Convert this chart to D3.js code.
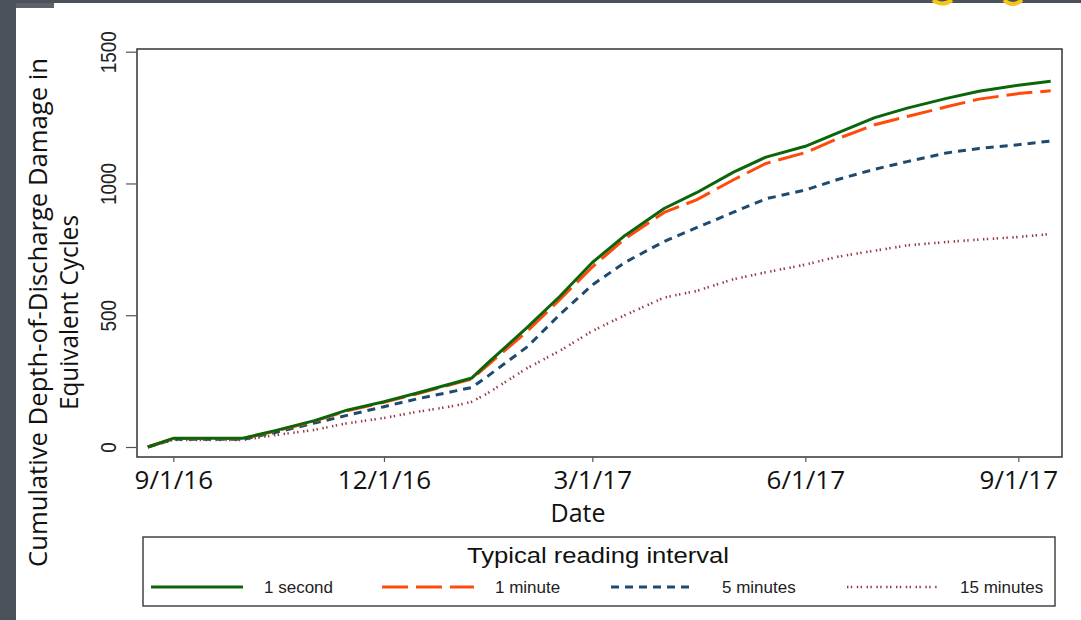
<!DOCTYPE html>
<html>
<head>
<meta charset="utf-8">
<script src="https://cdn.jsdelivr.net/npm/d3@7"></script>
<style>
  body { margin: 0; background: #fff; }
  svg { display: block; }
</style>
</head>
<body>
<div id="chart"></div>
<script>
// readings (cumulative DoD damage, equivalent cycles)
const dates = ["2016-08-21", "2016-09-01", "2016-10-01", "2016-10-15", "2016-11-01", "2016-11-15",
    "2016-12-01", "2016-12-15", "2017-01-01", "2017-01-08", "2017-01-15", "2017-02-01", "2017-02-15",
    "2017-03-01", "2017-03-15", "2017-04-01", "2017-04-15", "2017-05-01", "2017-05-15", "2017-06-01",
    "2017-06-15", "2017-07-01", "2017-07-15", "2017-08-01", "2017-08-15", "2017-09-01", "2017-09-15"];
const oneSecond = [0, 33, 33, 62, 100, 140, 172, 204, 245, 262, 320, 455, 572, 700, 802, 905, 965,
    1043, 1100, 1141, 1192, 1250, 1286, 1323, 1350, 1373, 1388];
const oneMinute = [0, 32, 32, 60, 98, 137, 170, 201, 242, 258, 312, 440, 560, 683, 790, 890, 938,
    1014, 1076, 1117, 1170, 1223, 1254, 1291, 1320, 1341, 1352];
const fiveMinutes = [0, 29, 29, 55, 91, 120, 153, 182, 213, 226, 270, 381, 503, 615, 700, 780, 832,
    891, 942, 975, 1015, 1054, 1083, 1116, 1133, 1147, 1161];
const fifteenMinutes = [0, 27, 27, 45, 65, 90, 110, 133, 157, 172, 205, 300, 365, 440, 500, 567, 592,
    637, 663, 692, 722, 745, 765, 778, 787, 797, 808];

const seriesNames = ["1 second", "1 minute", "5 minutes", "15 minutes"];
const xTickDates = ["2016-09-01", "2016-12-01", "2017-03-01", "2017-06-01", "2017-09-01"];
const yTicks = [0, 500, 1000, 1500];

let width = 1081, height = 620;
let frame = {left: 137, right: 1062, top: 49, bottom: 457}; //px

let parse = d3.timeParse("%Y-%m-%d");

let svg = d3.select("#chart")
    .append("svg")
    .attr("width", width)
    .attr("height", height);

// slide chrome around the chart
svg.append("rect").attr("x", 0).attr("y", 0).attr("width", 16).attr("height", height).attr("fill", "#4a5159");
svg.append("rect").attr("x", 0).attr("y", 0).attr("width", width).attr("height", 3).attr("fill", "#4a5159");
svg.append("rect").attr("x", 16).attr("y", 3).attr("width", 38).attr("height", 5).attr("fill", "#5b626a");
svg.append("path").attr("d", "M933,0 Q942,7 952,0").attr("fill", "none").attr("stroke", "#f5c518").attr("stroke-width", 4);
svg.append("path").attr("d", "M1004,0 Q1013,8 1022,0").attr("fill", "none").attr("stroke", "#f5c518").attr("stroke-width", 4);

let x = d3.scaleTime()
    .domain([parse(xTickDates[0]), parse(xTickDates[xTickDates.length - 1])])
    .range([173.3, 1018.3]);

let y = d3.scaleLinear()
    .domain([0, 1500])
    .range([447, 51.7]);

// plot frame
svg.append("rect")
    .attr("x", frame.left)
    .attr("y", frame.top)
    .attr("width", frame.right - frame.left)
    .attr("height", frame.bottom - frame.top)
    .attr("fill", "none")
    .attr("stroke", "#333")
    .attr("stroke-width", 1.5);

/*---------------
 // y axis stuff
 ----------------*/
let yAxis = d3.axisLeft(y)
    .tickValues(yTicks)
    .tickSize(11)
    .tickPadding(0)
    .tickFormat(d3.format("d"));

let yg = svg.append("g")
    .attr("transform", "translate(" + frame.left + ",0)")
    .call(yAxis);
yg.select(".domain").remove();
yg.selectAll(".tick line").attr("stroke", "#555").attr("stroke-width", 1.2);
// glyphs in the picture are taller than wide, hence the stretch
yg.selectAll(".tick text")
    .attr("x", 0).attr("dy", 0)
    .attr("transform", "translate(-21,0) rotate(-90) scale(1,1.2)")
    .style("text-anchor", "middle")
    .style("font-family", "'Liberation Sans', Arial, sans-serif")
    .style("font-size", "19px")
    .attr("fill", "#222");

let yTitle = svg.append("text")
    .attr("transform", "translate(47,312.5) rotate(-90)")
    .style("text-anchor", "middle")
    .style("font-family", "'Open Sans', sans-serif")
    .style("font-size", "26px")
    .attr("fill", "#111");
yTitle.append("tspan").attr("x", 0).attr("y", 0)
    .attr("textLength", 509).attr("lengthAdjust", "spacingAndGlyphs")
    .text("Cumulative Depth-of-Discharge Damage in");
yTitle.append("tspan").attr("x", 0).attr("y", 31)
    .attr("textLength", 195).attr("lengthAdjust", "spacingAndGlyphs")
    .text("Equivalent Cycles");

/*---------------
 // x axis stuff
 ----------------*/
let xAxis = d3.axisBottom(x)
    .tickValues(xTickDates.map(parse))
    .tickSize(5)
    .tickPadding(0)
    .tickFormat(d3.timeFormat("%-m/%-d/%y"));

let xg = svg.append("g")
    .attr("transform", "translate(0," + frame.bottom + ")")
    .call(xAxis);
xg.select(".domain").remove();
xg.selectAll(".tick line").attr("stroke", "#555").attr("stroke-width", 1.2);
xg.selectAll(".tick text")
    .attr("y", 32).attr("dy", 0)
    .style("font-family", "'Open Sans', sans-serif")
    .style("font-size", "26px")
    .attr("fill", "#111");

svg.append("text")
    .attr("x", 578)
    .attr("y", 522)
    .style("text-anchor", "middle")
    .style("font-family", "'Open Sans', sans-serif")
    .style("font-size", "25px")
    .attr("fill", "#111")
    .text("Date");

/*---------------
 // the four curves
 ----------------*/
let styles = [
    {color: "#0b660b", dash: null, w: 3},
    {color: "#ff4a0a", dash: "26,8", w: 3},
    {color: "#1f4a70", dash: "8,6", w: 3},
    {color: "#973840", dash: "1.4,2.4,1.4,4.6", w: 2.6}
];
let values = [oneSecond, oneMinute, fiveMinutes, fifteenMinutes];

let line = d3.line()
    .x(d => x(d.date))
    .y(d => y(d.value));

// draw back to front so the solid green stays on top
for (let s = values.length - 1; s >= 0; s--) {
    let pts = dates.map((d, i) => ({date: parse(d), value: values[s][i]}));
    svg.append("path")
        .datum(pts)
        .attr("d", line)
        .attr("fill", "none")
        .attr("stroke", styles[s].color)
        .attr("stroke-width", styles[s].w)
        .attr("stroke-dasharray", styles[s].dash)
        .attr("stroke-linejoin", "round");
}

/*---------------
 // legend
 ----------------*/
let legend = svg.append("g");
legend.append("rect")
    .attr("x", 143).attr("y", 537)
    .attr("width", 912).attr("height", 69)
    .attr("fill", "#fff")
    .attr("stroke", "#444")
    .attr("stroke-width", 1.5);

legend.append("text")
    .attr("x", 598).attr("y", 563)
    .style("text-anchor", "middle")
    .style("font-family", "'Liberation Sans', Arial, sans-serif")
    .style("font-size", "22px")
    .attr("textLength", 262).attr("lengthAdjust", "spacingAndGlyphs")
    .attr("fill", "#111")
    .text("Typical reading interval");

let itemX = [151, 382, 611, 847];
seriesNames.forEach((name, i) => {
    legend.append("line")
        .attr("x1", itemX[i]).attr("x2", itemX[i] + (i == 2 ? 84 : 92))
        .attr("y1", 587).attr("y2", 587)
        .attr("stroke", styles[i].color)
        .attr("stroke-width", styles[i].w)
        .attr("stroke-dasharray", styles[i].dash);
    legend.append("text")
        .attr("x", itemX[i] + (i == 2 ? 111 : 113)).attr("y", 593)
        .style("font-family", "'Liberation Sans', Arial, sans-serif")
        .style("font-size", "17px")
        .attr("fill", "#222")
        .text(name);
});
</script>
</body>
</html>
